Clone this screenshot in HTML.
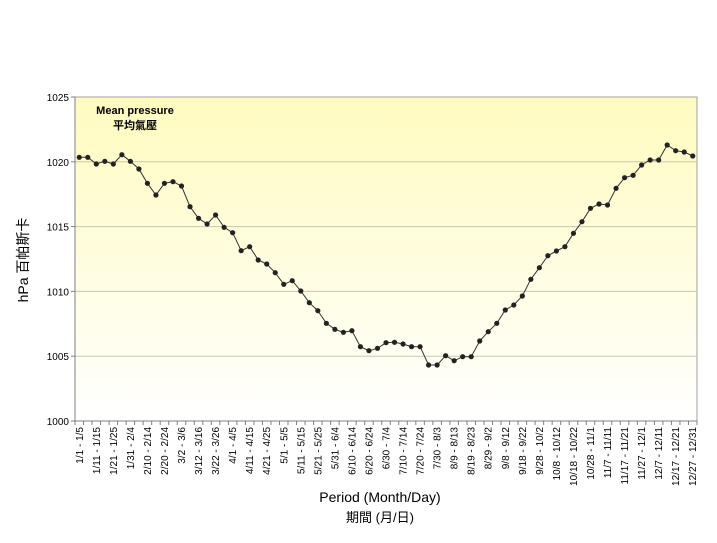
<!DOCTYPE html>
<html><head><meta charset="utf-8"><style>
body{margin:0;background:#fff;width:717px;height:538px;overflow:hidden;font-family:"Liberation Sans","Noto Sans CJK TC",sans-serif}
</style></head><body>
<svg id="s" width="717" height="538" xmlns="http://www.w3.org/2000/svg" font-family="Liberation Sans, Noto Sans CJK TC, sans-serif">
<defs><linearGradient id="g" x1="0" y1="0" x2="0" y2="1"><stop offset="0" stop-color="#fffbbf"/><stop offset="1" stop-color="#ffffff"/></linearGradient></defs>
<rect x="75" y="97" width="622" height="324" fill="url(#g)" stroke="#a0a0a0"/>
<g id="grid" stroke="#c8c8b0" stroke-width="1"></g>
<line x1="75" y1="97" x2="75" y2="421" stroke="#808080"/>
<line x1="75" y1="421" x2="697" y2="421" stroke="#808080"/>
<g id="ticks" stroke="#808080"></g>
<g id="yl" font-size="10" text-anchor="end" fill="#000"></g>
<g id="xl" font-size="10" fill="#000" text-anchor="end"></g>
<polyline id="ln" fill="none" stroke="#333" stroke-width="1"/>
<g id="pts" fill="#222"></g>
<text x="135" y="114" font-size="11" font-weight="bold" text-anchor="middle">Mean pressure</text>
<text x="135" y="129" font-size="11" font-weight="bold" text-anchor="middle">平均氣壓</text>
<text transform="translate(28,260) rotate(-90)" font-size="14" text-anchor="middle">hPa 百帕斯卡</text>
<text x="380" y="502" font-size="14" text-anchor="middle">Period (Month/Day)</text>
<text x="380" y="522" font-size="13" text-anchor="middle">期間 (月/日)</text>
</svg>
<script>
var ys=[157.3,157.3,164,161.3,164,154.7,161.3,169,183.3,195,183.3,181.7,186,206.7,218.3,224,215,227.3,232.7,250.7,246.7,260,264,272.7,284.3,280.7,291,302.7,310.7,323.3,329.3,332.3,330.7,346.7,350.7,348.3,342.7,342.3,344,346.7,346.7,365,365,355.7,360.7,356.7,356.7,341,331.7,323.3,310,305,296,279.3,267.7,255.7,251,246.7,233.3,221.7,208.3,204,205,188.3,177.7,175.3,165,160,160,145,150.7,152,156];
var labs=["1/1 - 1/5","1/11 - 1/15","1/21 - 1/25","1/31 - 2/4","2/10 - 2/14","2/20 - 2/24","3/2 - 3/6","3/12 - 3/16","3/22 - 3/26","4/1 - 4/5","4/11 - 4/15","4/21 - 4/25","5/1 - 5/5","5/11 - 5/15","5/21 - 5/25","5/31 - 6/4","6/10 - 6/14","6/20 - 6/24","6/30 - 7/4","7/10 - 7/14","7/20 - 7/24","7/30 - 8/3","8/9 - 8/13","8/19 - 8/23","8/29 - 9/2","9/8 - 9/12","9/18 - 9/22","9/28 - 10/2","10/8 - 10/12","10/18 - 10/22","10/28 - 11/1","11/7 - 11/11","11/17 - 11/21","11/27 - 12/1","12/7 - 12/11","12/17 - 12/21","12/27 - 12/31"];
var NS="http://www.w3.org/2000/svg";
function el(p,t,a,txt){var e=document.createElementNS(NS,t);for(var k in a)e.setAttribute(k,a[k]);if(txt)e.textContent=txt;document.getElementById(p).appendChild(e);}
var step=622/73;
for(var i=0;i<=5;i++){var y=97+i*64.8;if(i>0&&i<5)el("grid","line",{x1:75,x2:697,y1:y,y2:y});el("yl","text",{x:69,y:y+4},String(1025-5*i));el("ticks","line",{x1:71,x2:75,y1:y,y2:y});}
for(var i=0;i<=73;i++){var x=75+i*step;el("ticks","line",{x1:x,x2:x,y1:421,y2:425});}
var p=[];
for(var i=0;i<73;i++){var x=75+step*(i+0.5);p.push(x.toFixed(1)+","+ys[i]);el("pts","circle",{cx:x,cy:ys[i],r:2.6});}
document.getElementById("ln").setAttribute("points",p.join(" "));
for(var j=0;j<37;j++){var x=75+step*(2*j+0.5)+3.5;el("xl","text",{transform:"translate("+x+",427) rotate(-90)"},labs[j]);}
</script>
</body></html>
